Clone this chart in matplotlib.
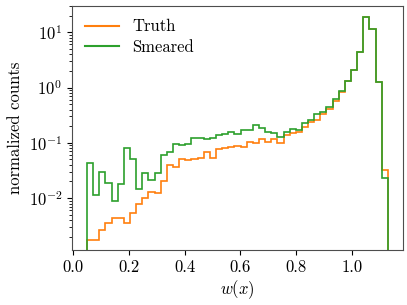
import numpy as np
import matplotlib
matplotlib.use("Agg")
import matplotlib.pyplot as plt
from matplotlib.lines import Line2D

plt.rcParams['font.family'] = 'serif'
plt.rcParams['font.serif'] = ['cmr10']
plt.rcParams['mathtext.fontset'] = 'cm'
plt.rcParams['axes.formatter.use_mathtext'] = True
plt.rcParams['font.size'] = 12

bin_edges = np.linspace(0.05, 1.13, 50)

truth = [0.00175, 0.00175, 0.00266, 0.00352, 0.00444, 0.00444, 0.00360, 0.00533,
         0.00785, 0.00995, 0.0131, 0.0126, 0.0205, 0.0398, 0.0362, 0.0505,
         0.0491, 0.0512, 0.0540, 0.0693, 0.0540, 0.0766, 0.0798, 0.0853,
         0.0869, 0.0832, 0.105, 0.0984, 0.116, 0.105, 0.116, 0.0984,
         0.139, 0.149, 0.156, 0.196, 0.242, 0.263, 0.329, 0.410,
         0.573, 0.843, 1.32, 2.08, 4.46, 19.1, 11.5, 1.25, 0.0324]

smeared = [0.0428, 0.0114, 0.0301, 0.0186, 0.0089, 0.0178, 0.0818, 0.0512,
           0.0145, 0.0289, 0.0213, 0.0280, 0.0604, 0.0693, 0.0944, 0.0916,
           0.0955, 0.121, 0.124, 0.118, 0.124, 0.139, 0.145, 0.160,
           0.145, 0.171, 0.171, 0.211, 0.188, 0.156, 0.149, 0.129,
           0.160, 0.178, 0.171, 0.226, 0.259, 0.333, 0.366, 0.440,
           0.614, 0.868, 1.32, 2.08, 4.35, 18.7, 11.3, 1.25, 0.0235]

centers = 0.5 * (bin_edges[:-1] + bin_edges[1:])
c_truth = '#ff7f0e'
c_smear = '#2ca02c'

fig = plt.figure(figsize=(4.07, 3.05), dpi=100)
ax = fig.add_axes([0.177, 0.180, 0.813, 0.801])

ax.hist(centers, bins=bin_edges, weights=truth, histtype='step',
        color=c_truth, lw=1.2)
ax.hist(centers, bins=bin_edges, weights=smeared, histtype='step',
        color=c_smear, lw=1.2)
ax.set_yscale('log')
ax.set_ylim(0.00115, 30)
ax.set_xlim(-0.004, 1.184)
ax.set_xticks([0.0, 0.2, 0.4, 0.6, 0.8, 1.0])
ax.set_xticklabels(['0.0', '0.2', '0.4', '0.6', '0.8', '1.0'])
ax.set_xlabel('$w(x)$', labelpad=2)
ax.set_ylabel('normalized counts', labelpad=4)
for s in ax.spines.values():
    s.set_edgecolor('0.3')
handles = [Line2D([], [], color=c_truth, lw=1.5), Line2D([], [], color=c_smear, lw=1.5)]
ax.legend(handles, ['Truth', 'Smeared'], loc='upper left', frameon=False,
          handlelength=2.0, handletextpad=0.8, borderaxespad=0.4,
          labelspacing=0.3)

fig.savefig('out.png', dpi=100)
